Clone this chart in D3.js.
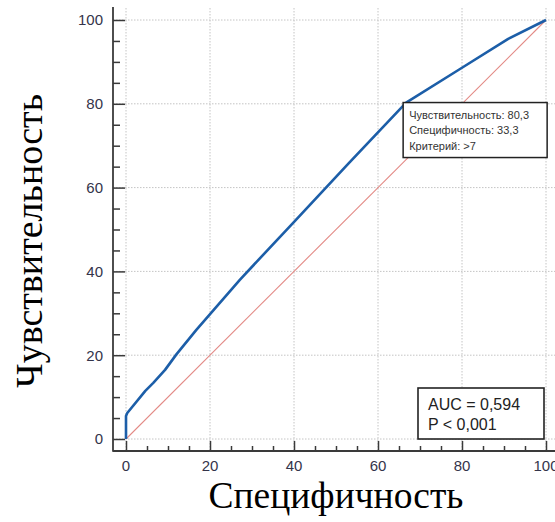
<!DOCTYPE html>
<html>
<head>
<meta charset="utf-8">
<script src="https://cdn.jsdelivr.net/npm/d3@7"></script>
<style>
  body { margin: 0; background: #fff; }
  svg { display: block; }
</style>
</head>
<body>
<svg id="chart" width="555" height="522"></svg>
<script>
// ROC curve points: x = 100 - specificity, y = sensitivity
const specificity = [0, 0, 0.3, 4.6, 6.5, 9.3, 12, 16.7, 27.1, 39.8, 53, 66.7, 80, 91, 100];
const sensitivity = [0, 5.5, 6.2, 11.5, 13.4, 16.5, 20.2, 26.0, 38.0, 51.6, 65.8, 80.3, 88.6, 95.5, 100];
const majorTicks = [0, 20, 40, 60, 80, 100];
const tooltipLines = ["Чувствительность: 80,3", "Специфичность: 33,3", "Критерий: >7"];
const aucLines = ["AUC = 0,594", "P < 0,001"];
const cutPoint = { x: 66.7, y: 80.3 };

const svg = d3.select("#chart");
const x = d3.scaleLinear().domain([0, 100]).range([126, 546]);
const y = d3.scaleLinear().domain([0, 100]).range([439, 20]);
const axisX = 113, axisY = 451;
const minorTicks = d3.range(0, 101, 5).filter(d => d % 20 !== 0);
const tickFont = "'Liberation Sans', Arial, sans-serif";
const titleFont = "'Liberation Serif', 'Times New Roman', serif";
const axisColor = "#3a3a3a";

// grid
const grid = svg.append("g").attr("stroke", "#c4c4c4").attr("stroke-width", 1)
  .attr("stroke-dasharray", "1.5,1.5");
grid.selectAll("line.v").data(majorTicks).join("line")
  .attr("x1", d => x(d)).attr("x2", d => x(d))
  .attr("y1", 8).attr("y2", axisY);
grid.selectAll("line.h").data(majorTicks).join("line")
  .attr("x1", axisX).attr("x2", 555)
  .attr("y1", d => y(d)).attr("y2", d => y(d));

// reference diagonal
svg.append("line")
  .attr("x1", x(0)).attr("y1", y(0)).attr("x2", x(100)).attr("y2", y(100))
  .attr("stroke", "#e38a86").attr("stroke-width", 1.1);

// ROC curve
const pts = specificity.map((d, i) => [d, sensitivity[i]]);
svg.append("path")
  .datum(pts)
  .attr("fill", "none")
  .attr("stroke", "#1c5ea8")
  .attr("stroke-width", 2.6)
  .attr("stroke-linejoin", "round")
  .attr("d", d3.line().x(d => x(d[0])).y(d => y(d[1])));

// axes: ticks point inward, labels outside
function styleAxis(g) {
  g.select(".domain").remove();
  g.selectAll("line").attr("stroke", axisColor).attr("stroke-width", 1.5);
}
svg.append("g").attr("transform", `translate(${axisX},0)`)
  .call(d3.axisRight(y).tickValues(majorTicks).tickSize(12).tickFormat(""))
  .call(styleAxis);
svg.append("g").attr("transform", `translate(${axisX},0)`)
  .call(d3.axisRight(y).tickValues(minorTicks).tickSize(7).tickFormat(""))
  .call(styleAxis);
svg.append("g").attr("transform", `translate(0,${axisY})`)
  .call(d3.axisTop(x).tickValues(majorTicks).tickSize(10).tickFormat(""))
  .call(styleAxis);
svg.append("g").attr("transform", `translate(0,${axisY})`)
  .call(d3.axisTop(x).tickValues(minorTicks).tickSize(5).tickFormat(""))
  .call(styleAxis);

svg.append("line").attr("x1", axisX).attr("x2", axisX).attr("y1", 7).attr("y2", axisY + 0.75)
  .attr("stroke", axisColor).attr("stroke-width", 1.8);
svg.append("line").attr("x1", axisX).attr("x2", 555).attr("y1", axisY).attr("y2", axisY)
  .attr("stroke", axisColor).attr("stroke-width", 1.8);

// tick labels
svg.append("g").selectAll("text").data(majorTicks).join("text")
  .attr("x", 103).attr("y", d => y(d)).attr("dy", "0.36em")
  .attr("text-anchor", "end")
  .attr("font-family", tickFont).attr("font-size", 15).attr("fill", "#34344a")
  .text(d => d);
svg.append("g").selectAll("text").data(majorTicks).join("text")
  .attr("x", d => x(d)).attr("y", 471)
  .attr("text-anchor", "middle")
  .attr("font-family", tickFont).attr("font-size", 15).attr("fill", "#34344a")
  .text(d => d);

// axis titles
svg.append("text")
  .attr("x", 336).attr("y", 508)
  .attr("text-anchor", "middle")
  .attr("font-family", titleFont).attr("font-size", 37.5).attr("fill", "#000")
  .text("Специфичность");
svg.append("text")
  .attr("transform", "translate(42,241) rotate(-90)")
  .attr("text-anchor", "middle")
  .attr("font-family", titleFont).attr("font-size", 38).attr("fill", "#000")
  .text("Чувствительность");

// cut-point tooltip
const tipX = x(cutPoint.x) - 3, tipY = y(cutPoint.y);
svg.append("rect")
  .attr("x", tipX).attr("y", tipY).attr("width", 144).attr("height", 55)
  .attr("fill", "#fff").attr("stroke", "#222").attr("stroke-width", 1.5);
svg.append("g").selectAll("text").data(tooltipLines).join("text")
  .attr("x", tipX + 6).attr("y", (d, i) => tipY + 16 + i * 15.5)
  .attr("font-family", tickFont).attr("font-size", 11).attr("fill", "#333")
  .text(d => d);

// AUC box
svg.append("rect")
  .attr("x", 418).attr("y", 388).attr("width", 126).attr("height", 51)
  .attr("fill", "#fff").attr("stroke", "#222").attr("stroke-width", 1.6);
svg.append("g").selectAll("text").data(aucLines).join("text")
  .attr("x", 428).attr("y", (d, i) => 410 + i * 20)
  .attr("font-family", tickFont).attr("font-size", 16).attr("fill", "#222")
  .text(d => d);
</script>
</body>
</html>
